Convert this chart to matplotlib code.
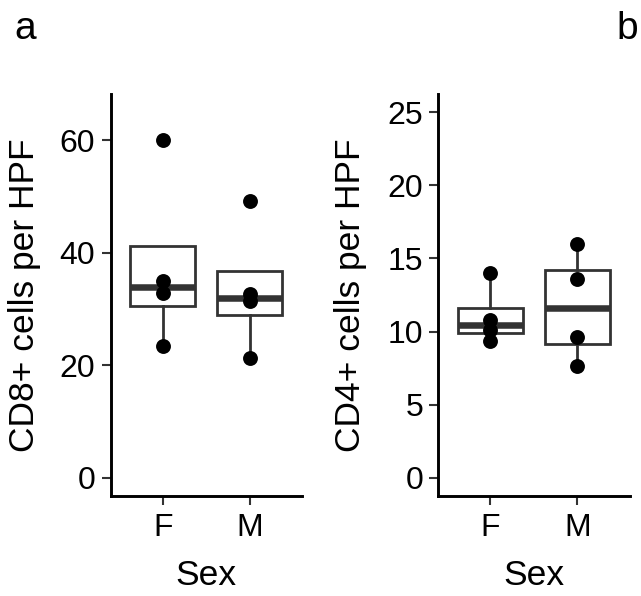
import matplotlib
matplotlib.use("Agg")
import matplotlib.pyplot as plt
import numpy as np

plt.rcParams['font.family'] = ['Liberation Sans', 'DejaVu Sans']

# data
sex = ['F', 'M']
cd8_f = [23.4, 32.9, 34.9, 60.0]
cd8_m = [21.3, 31.4, 32.6, 49.3]
cd4_f = [9.34, 10.1, 10.77, 14.0]
cd4_m = [7.63, 9.64, 13.6, 16.0]

ylab_a = 'CD8+ cells per HPF'
ylab_b = 'CD4+ cells per HPF'
yticks_a = [0, 20, 40, 60]
yticks_b = [0, 5, 10, 15, 20, 25]

fig = plt.figure(figsize=(6.41, 5.96), dpi=100)
ax_a = fig.add_axes([0.1724, 0.1678, 0.2983, 0.6745])
ax_b = fig.add_axes([0.6838, 0.1678, 0.2983, 0.6745])

box_col = '#333333'


def panel(ax, groups, ylab, yticks, ylim, labx):
    ax.boxplot(groups, positions=[1, 2], widths=0.75, whis=1.5,
               showfliers=False, patch_artist=True,
               boxprops=dict(facecolor='white', edgecolor=box_col, linewidth=2),
               medianprops=dict(color=box_col, linewidth=4.7),
               whiskerprops=dict(color=box_col, linewidth=2),
               capprops=dict(linewidth=0))
    for i, g in enumerate(groups):
        ax.scatter([i + 1] * len(g), g, s=115, color='black', zorder=5,
                   clip_on=False, linewidths=0)
    ax.set_xlim(0.4, 2.6)
    ax.set_ylim(*ylim)
    ax.set_xticks([1, 2])
    ax.set_xticklabels(sex)
    ax.set_yticks(yticks)
    ax.spines['top'].set_visible(False)
    ax.spines['right'].set_visible(False)
    for s in ['left', 'bottom']:
        ax.spines[s].set_linewidth(2.1)
        ax.spines[s].set_color('black')
    ax.tick_params(axis='both', length=6.5, width=1.5, color=box_col,
                   labelsize=23, labelcolor='black')
    ax.tick_params(axis='x', pad=6)
    ax.tick_params(axis='y', pad=4.5)
    ax.set_xlabel('Sex', fontsize=25.5, labelpad=11)
    ax.set_ylabel(ylab, fontsize=25.5, va='center')
    ax.yaxis.set_label_coords(labx, 0.5)


panel(ax_a, [cd8_f, cd8_m], ylab_a, yticks_a, (-3.25, 68.25), -0.452)
panel(ax_b, [cd4_f, cd4_m], ylab_b, yticks_b, (-1.25, 26.25), -0.458)

fig.text(25.5 / 641, 1 - 39 / 596, 'a', fontsize=28, ha='center', va='baseline')
fig.text(627.5 / 641, 1 - 39 / 596, 'b', fontsize=28, ha='center', va='baseline')

fig.savefig('out.png', dpi=100)
